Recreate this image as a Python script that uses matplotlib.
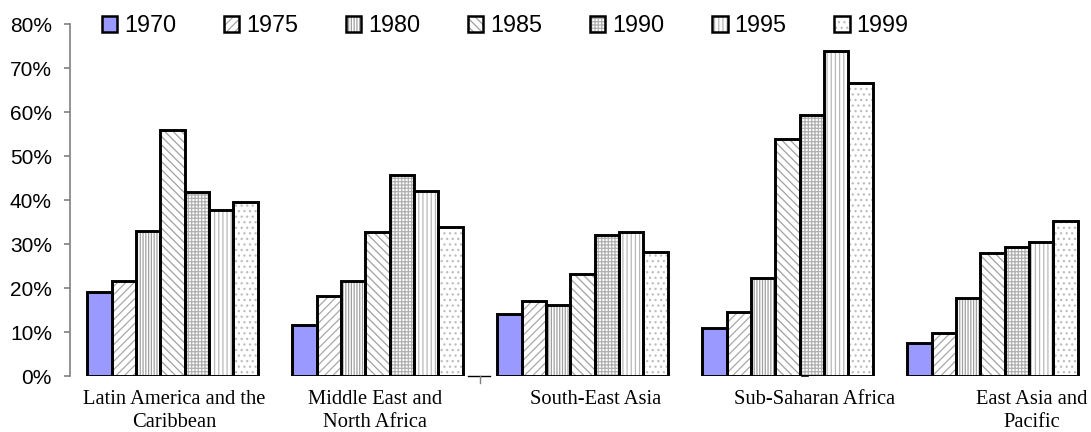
import matplotlib.pyplot as plt
import matplotlib.transforms as mtransforms
from matplotlib.legend_handler import HandlerTuple
import numpy as np

regions = [
    "Latin America and the\nCaribbean",
    "Middle East and\nNorth Africa",
    "South-East Asia",
    "Sub-Saharan Africa",
    "East Asia and\nPacific",
]
years = ["1970", "1975", "1980", "1985", "1990", "1995", "1999"]

# share in percent, one list per year, regions in the order above
v1970 = [19.2, 11.7, 14.2, 10.9, 7.4]
v1975 = [21.7, 18.2, 17.0, 14.5, 9.7]
v1980 = [33.0, 21.7, 16.1, 22.2, 17.7]
v1985 = [55.8, 32.7, 23.1, 53.8, 27.9]
v1990 = [41.8, 45.6, 32.0, 59.4, 29.4]
v1995 = [37.8, 42.0, 32.8, 73.8, 30.5]
v1999 = [39.6, 33.8, 28.2, 66.5, 35.3]
series = [v1970, v1975, v1980, v1985, v1990, v1995, v1999]

yticks = [0, 10, 20, 30, 40, 50, 60, 70, 80]

# fill, hatch, hatch colour per year
styles = [
    ("#9999FF", "", "#9999FF"),
    ("white", "////", "#a8a8a8"),
    ("white", "||||||", "#a0a0a0"),
    ("white", "\\\\\\\\", "#a0a0a0"),
    ("white", "+++++", "#b0b0b0"),
    ("white", "||||", "#b8b8b8"),
    ("white", "...", "#bdbdbd"),
]

# label x shift (in category units) under each group
label_shift = [0.007, -0.012, 0.066, 0.13, 0.19]

plt.rcParams["hatch.linewidth"] = 0.9

fig = plt.figure(figsize=(10.91, 4.32), dpi=100)
ax = fig.add_axes([70 / 1091, 56 / 432, 1025 / 1091, 352 / 432])

x = np.arange(len(regions))
width = 0.1185

handles = []
for i, vals in enumerate(series):
    fill, hatch, hcol = styles[i]
    pos = x + (i - 3) * width
    ax.bar(pos, vals, width, color=fill, hatch=hatch,
           edgecolor=hcol, linewidth=0, zorder=2)
    ax.bar(pos, vals, width, fill=False,
           edgecolor="black", linewidth=2.1, zorder=3)
    # legend swatch: grey hatch under a black square outline
    inner = plt.Rectangle((0, 0), 1, 1, facecolor=fill, hatch=hatch,
                          edgecolor=hcol, linewidth=0)
    outer = plt.Rectangle((0, 0), 1, 1, fill=False,
                          edgecolor="black", linewidth=1.8)
    handles.append((inner, outer))

ax.set_xlim(-0.5, 4.5)
ax.set_ylim(0, 80)
ax.set_yticks(yticks)
ax.set_yticklabels([f"{t}%" for t in yticks],
                   fontfamily="Liberation Sans", fontsize=15)
ax.set_xticks([])

for side in ["top", "right", "bottom"]:
    ax.spines[side].set_visible(False)
ax.spines["left"].set_color("#808080")
ax.spines["left"].set_linewidth(1.2)
ax.tick_params(axis="y", direction="out", length=4,
               width=1.2, color="#808080", pad=9)

# stray axis pieces left between the groups
trans = mtransforms.blended_transform_factory(ax.transData, ax.transAxes)
ax.plot([1.44, 1.55], [0, 0], color="black", lw=1, transform=trans,
        clip_on=False)
ax.plot([1.5, 1.5], [0, -0.02], color="#808080", lw=1, transform=trans,
        clip_on=False)
ax.plot([3.07, 3.1], [0, 0], color="black", lw=1.2, transform=trans,
        clip_on=False)

for i, name in enumerate(regions):
    ax.annotate(name, xy=(x[i] + label_shift[i], 0),
                xycoords=trans, xytext=(0, -14),
                textcoords="offset pixels", ha="center", va="top",
                fontfamily="Liberation Serif", fontsize=14.8,
                linespacing=1.3)

leg = fig.legend(handles, years, loc="center left",
                 bbox_to_anchor=(102 / 1091, 1 - 25.5 / 432),
                 ncol=7, frameon=False, borderpad=0, borderaxespad=0,
                 handlelength=0.65, handleheight=0.65,
                 handletextpad=0.3, columnspacing=2.05,
                 handler_map={tuple: HandlerTuple(ndivide=1, pad=0)},
                 prop={"family": "Liberation Sans", "size": 16.8})

fig.savefig("out.png", dpi=100)
